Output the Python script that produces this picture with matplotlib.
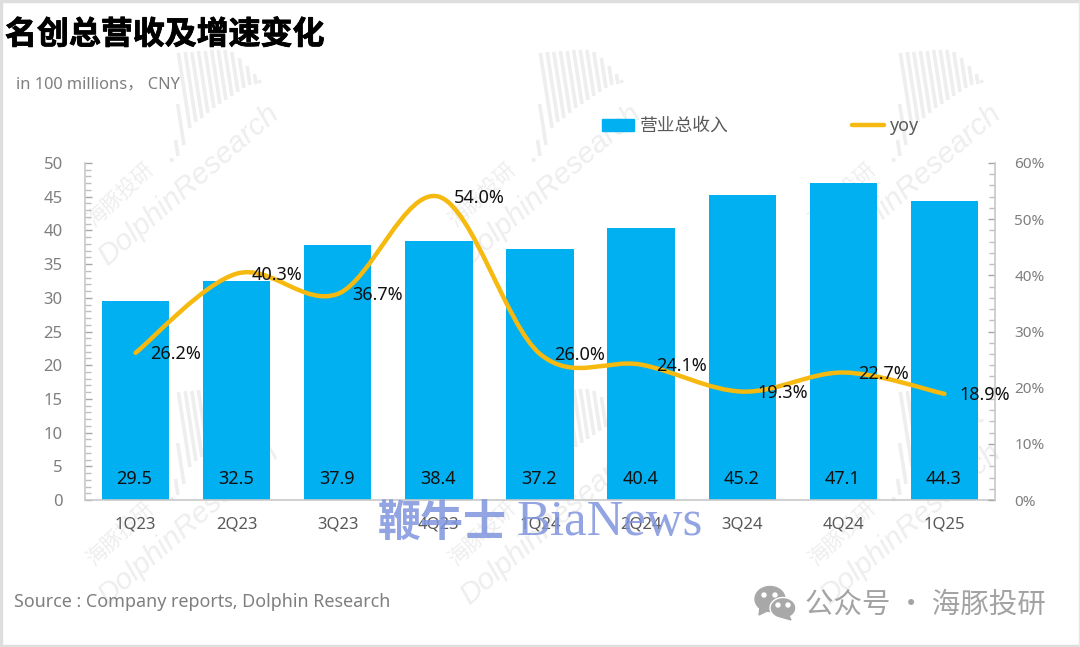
import matplotlib

matplotlib.use("Agg")

import matplotlib.pyplot as plt
import matplotlib.patheffects as pe
import numpy as np
from matplotlib.lines import Line2D
from matplotlib.patches import Ellipse, PathPatch, Polygon, Rectangle
from matplotlib.path import Path
from matplotlib.ticker import MultipleLocator, PercentFormatter

CJK = ["Noto Sans", "Noto Sans CJK SC", "DejaVu Sans"]
plt.rcParams["font.family"] = CJK

quarters = ["1Q23", "2Q23", "3Q23", "4Q23", "1Q24", "2Q24", "3Q24", "4Q24", "1Q25"]
revenue = [29.5, 32.5, 37.9, 38.4, 37.2, 40.4, 45.2, 47.1, 44.3]
yoy = [26.2, 40.3, 36.7, 54.0, 26.0, 24.1, 19.3, 22.7, 18.9]

BAR = "#00b0f0"
LINE = "#f5b90f"
TICK = "#7f7f7f"
MARK = "#eeeeee"
W, H = 1080, 647

# fan shape of the watermark, in pixels
fan_x = [172, 178, 184, 190, 196, 202, 208, 214, 220, 226, 232, 238, 244, 250, 256, 260]
fan_bottom = [162, 156, 145, 128, 122, 118, 113, 108, 104, 100, 96, 92, 88, 85, 84, 83]
fan_top = [158, 140, 104, 53, 52, 52, 51, 51, 50, 50, 50, 52, 58, 66, 74, 80]


def box(left, top, right, bottom):
    return [left / W, 1 - bottom / H, (right - left) / W, (bottom - top) / H]


def smooth_path(xs, ys):
    # same kind of curve as an Excel smoothed line
    pts = np.column_stack([xs, ys])
    verts = [pts[0]]
    codes = [Path.MOVETO]
    for i in range(len(pts) - 1):
        before = pts[max(i - 1, 0)]
        after = pts[min(i + 2, len(pts) - 1)]
        verts += [
            pts[i] + (pts[i + 1] - before) / 6,
            pts[i + 1] - (after - pts[i]) / 6,
            pts[i + 1],
        ]
        codes += [Path.CURVE4] * 3
    return Path(verts, codes)


def watermark(axis, dx, dy):
    for x, bottom, top in zip(fan_x, fan_bottom, fan_top):
        axis.plot(
            [x + dx, x + dx - (bottom - top) * 0.155],
            [bottom + dy, top + dy],
            color=MARK,
            lw=2.6,
            solid_capstyle="butt",
        )
    axis.text(
        188 + dx, 185 + dy, "DolphinResearch", color=MARK, fontsize=21.5,
        rotation=41, ha="center", va="center", rotation_mode="anchor",
        family=["Liberation Sans"], style="italic",
    )
    axis.text(
        120 + dx, 195 + dy, "海豚投研", color=MARK, fontsize=15,
        rotation=43, ha="center", va="center", rotation_mode="anchor",
    )


figure = plt.figure(figsize=(W / 100, H / 100), dpi=100, facecolor="white")

back = figure.add_axes([0, 0, 1, 1], zorder=0)
back.set_xlim(0, W)
back.set_ylim(H, 0)
back.axis("off")
for dy in (0, 339):
    for dx in (0, 362, 722):
        watermark(back, dx, dy)

axis = figure.add_axes(box(85, 163, 995, 500), zorder=1)
axis.patch.set_alpha(0)
positions = np.arange(len(quarters))
axis.bar(positions, revenue, width=0.665, color=BAR, label="营业总收入")
axis.set_xlim(-0.5, 8.5)
axis.set_ylim(0, 50)
axis.set_xticks(positions, quarters)
axis.yaxis.set_major_locator(MultipleLocator(5))
axis.yaxis.set_minor_locator(MultipleLocator(1))
axis.tick_params(axis="x", length=0, pad=12, labelsize=12, labelcolor="#595959")
axis.tick_params(axis="y", which="major", direction="in", length=5, width=1, color="#a6a6a6",
                 pad=16, labelsize=12, labelcolor=TICK)
axis.tick_params(axis="y", which="minor", direction="in", length=4, width=1, color="#bfbfbf")
for name, spine in axis.spines.items():
    spine.set_visible(name in ("left", "bottom"))
    spine.set_color("#c8c8c8")
    spine.set_linewidth(1.2)
for x, value in zip(positions, revenue):
    axis.annotate(f"{value:.1f}", (x, 0), xytext=(-1, 21), textcoords="offset pixels",
                  ha="center", va="center", fontsize=13, color="#111111")

share = axis.twinx()
share.patch.set_alpha(0)
share.set_ylim(0, 60)
share.yaxis.set_major_locator(MultipleLocator(10))
share.yaxis.set_minor_locator(MultipleLocator(2))
share.yaxis.set_major_formatter(PercentFormatter(decimals=0))
share.tick_params(axis="y", which="major", direction="in", length=5, width=1, color="#a6a6a6",
                  pad=14, labelsize=11, labelcolor=TICK)
share.tick_params(axis="y", which="minor", direction="in", length=4, width=1, color="#bfbfbf")
for name, spine in share.spines.items():
    spine.set_visible(name == "right")
    spine.set_color("#c8c8c8")
    spine.set_linewidth(1.2)
share.add_patch(PathPatch(smooth_path(positions, yoy), fc="none", ec=LINE, lw=3.2, capstyle="round"))
for x, value in zip(positions, yoy):
    share.annotate(f"{value:.1f}%", (x, value), xytext=(40, -1), textcoords="offset pixels",
                   ha="center", va="center", fontsize=13, color="#111111", clip_on=False)

handles = [
    Rectangle((0, 0), 1, 1, color=BAR),
    Line2D([0], [0], color=LINE, lw=3.2, solid_capstyle="round"),
]
figure.legend(
    handles, ["营业总收入", "yoy"],
    loc="center left", bbox_to_anchor=(586 / W, 1 - 126 / H), ncol=2, frameon=False,
    fontsize=12.8, labelcolor="#595959", handlelength=1.8, handleheight=0.65,
    handletextpad=0.35, columnspacing=6.9,
)

front = figure.add_axes([0, 0, 1, 1], zorder=3)
front.set_xlim(0, W)
front.set_ylim(H, 0)
front.axis("off")
front.patch.set_alpha(0)

# frame of the screenshot
for spot in (
    Rectangle((0, 0), W, 2, color="#dedede"),
    Rectangle((0, H - 2), W, 2, color="#dedede"),
    Rectangle((0, 0), 2, H, color="#dedede"),
    Rectangle((W - 1, 0), 1, H, color="#e6e6e6"),
):
    front.add_patch(spot)

front.text(5, 35, "名创总营收及增速变化", fontsize=23, fontweight="bold", color="black",
           va="center", ha="left", family=["Noto Sans CJK SC"],
           path_effects=[pe.withStroke(linewidth=0.6, foreground="black")])
front.text(16, 84, "in 100 millions， CNY", fontsize=11.8, color=TICK, va="center", ha="left")
front.text(14, 602, "Source : Company reports, Dolphin Research", fontsize=12.9, color=TICK,
           va="center", ha="left")
front.text(805, 605, "公众号 · 海豚投研", fontsize=20.5, color="#a3a3a3", va="center", ha="left",
           family=["Noto Sans CJK SC"])
front.text(378, 536, "鞭牛士", fontsize=31, fontweight="bold", color="#7f94dc", alpha=0.85,
           va="baseline", ha="left", family=["Noto Sans CJK SC"])
front.text(516, 535, "BiaNews", fontsize=36.5, color="#7f94dc", alpha=0.85,
           va="baseline", ha="left", family=["Liberation Serif"])

# wechat icon
front.add_patch(Ellipse((770, 599), 30, 25, color="#a8a8a8"))
front.add_patch(Polygon([(760, 607), (759, 615), (769, 610)], color="#a8a8a8"))
front.add_patch(Ellipse((783, 608), 26, 21, fc="#a8a8a8", ec="white", lw=1))
front.add_patch(Polygon([(788, 614), (791, 620), (781, 617)], color="#a8a8a8"))
for x, y in ((764, 595), (775, 595), (778, 605), (788, 605)):
    front.add_patch(Ellipse((x, y), 4, 4, color="white"))

figure.savefig("out.png", dpi=100)
plt.close(figure)
